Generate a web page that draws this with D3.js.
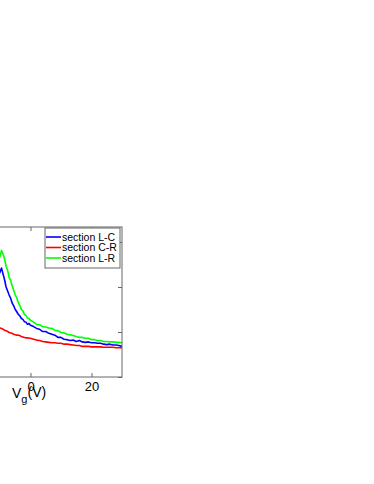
<!DOCTYPE html>
<html lang="en">
<head>
	<meta charset="utf-8">
	<title>D3: sections vs Vg</title>
	<script type="text/javascript" src="https://d3js.org/d3.v7.min.js"></script>
	<style type="text/css">
		body { margin: 0; background: #fff; }
		text { font-family: "Liberation Sans", Arial, sans-serif; }
	</style>
</head>
<body>
	<script type="text/javascript">

        // gate voltage (V)
        var vg = [-13, -12, -11, -10, -9.5, -9, -8.5, -8, -7.5, -7, -6.5, -6, -5.5, -5, -4.5, -4, -3.5, -3, -2.5, -2, -1.5, -1, -0.5,
                  0, 1, 2, 3, 4, 5, 6, 7, 8, 9, 10, 11, 12, 13, 14, 15, 16, 17, 18, 19, 20, 21, 22, 23, 24, 25, 26, 27, 28, 29, 30];

        var sectionLC = [1.96, 2.09, 2.19, 2.33, 2.42, 2.29, 2.16, 2.00, 1.91, 1.82, 1.75, 1.64, 1.58, 1.50, 1.45, 1.39, 1.36, 1.30, 1.28, 1.23, 1.22, 1.17, 1.19,
                         1.15, 1.12, 1.08, 1.06, 1.01, 1.01, 0.97, 0.95, 0.93, 0.88, 0.88, 0.84, 0.83, 0.81, 0.82, 0.79, 0.81, 0.78, 0.77, 0.78, 0.76, 0.76, 0.75, 0.75, 0.73, 0.72, 0.73, 0.71, 0.71, 0.70, 0.68];

        var sectionCR = [1.17, 1.14, 1.11, 1.09, 1.08, 1.06, 1.04, 1.03, 1.01, 0.99, 0.98, 0.97, 0.95, 0.94, 0.93, 0.93, 0.92, 0.90, 0.89, 0.88, 0.87, 0.87, 0.86,
                         0.86, 0.84, 0.82, 0.81, 0.79, 0.78, 0.77, 0.76, 0.76, 0.75, 0.75, 0.73, 0.73, 0.72, 0.71, 0.70, 0.70, 0.68, 0.68, 0.68, 0.67, 0.67, 0.67, 0.67, 0.66, 0.66, 0.66, 0.66, 0.65, 0.65, 0.65];

        var sectionLR = [2.26, 2.40, 2.53, 2.68, 2.81, 2.73, 2.62, 2.46, 2.37, 2.21, 2.15, 2.02, 1.93, 1.82, 1.76, 1.65, 1.59, 1.50, 1.47, 1.39, 1.37, 1.31, 1.30,
                         1.26, 1.22, 1.17, 1.16, 1.12, 1.11, 1.09, 1.08, 1.04, 1.03, 0.99, 0.98, 0.95, 0.94, 0.92, 0.90, 0.88, 0.88, 0.86, 0.86, 0.83, 0.83, 0.81, 0.81, 0.79, 0.79, 0.78, 0.78, 0.77, 0.77, 0.76];

        var seriesNames = ["section L-C", "section C-R", "section L-R"];
        var seriesColors = ["#0000ff", "#ff0000", "#00ff00"];
        var xTicks = [0, 20];
        var yTicks = [0, 1, 2, 3];

        var width = 374, height = 484;
        var plot = { left: -61, right: 122, top: 227, bottom: 377 };

        var svg = d3.select("body")
            .append("svg")
            .attr("width", width)
            .attr("height", height);

        var x = d3.scaleLinear()
            .domain([-30, 30])
            .range([plot.left, plot.right]);

        var y = d3.scaleLinear()
            .domain([0, 3.333])
            .range([plot.bottom, plot.top]);

        svg.append("clipPath")
            .attr("id", "clip")
            .append("rect")
            .attr("x", plot.left)
            .attr("y", plot.top)
            .attr("width", plot.right - plot.left)
            .attr("height", plot.bottom - plot.top);

        var allSeries = [sectionLC, sectionCR, sectionLR];

        var line = d3.line()
            .x(function(d, i) { return x(vg[i]); })
            .y(function(d) { return y(d); });

        svg.append("g")
            .attr("clip-path", "url(#clip)")
            .selectAll("path")
            .data(allSeries)
            .enter()
            .append("path")
            .attr("d", line)
            .attr("fill", "none")
            .attr("stroke", function(d, i) { return seriesColors[i]; })
            .attr("stroke-width", 1.6)
            .attr("stroke-linejoin", "round");

        // axes, matlab style: ticks inward
        var frameColor = "#666";

        svg.append("g")
            .attr("transform", "translate(0," + plot.bottom + ")")
            .call(d3.axisBottom(x).tickValues(xTicks).tickSize(-4).tickPadding(5).tickFormat(d3.format("d")))
            .call(function(g) {
                g.select(".domain").remove();
                g.selectAll(".tick line").attr("stroke", frameColor);
                g.selectAll(".tick text").attr("font-size", 13).attr("fill", "#000")
                    .attr("font-family", "Liberation Sans, Arial, sans-serif");
            });

        svg.append("g")
            .attr("transform", "translate(0," + plot.top + ")")
            .call(d3.axisTop(x).tickValues(xTicks).tickSize(-4).tickFormat(""))
            .call(function(g) {
                g.select(".domain").remove();
                g.selectAll(".tick line").attr("stroke", frameColor);
            });

        svg.append("g")
            .attr("transform", "translate(" + plot.right + ",0)")
            .call(d3.axisRight(y).tickValues(yTicks).tickSize(-4).tickFormat(""))
            .call(function(g) {
                g.select(".domain").remove();
                g.selectAll(".tick line").attr("stroke", frameColor);
            });

        svg.append("rect")
            .attr("x", plot.left)
            .attr("y", plot.top)
            .attr("width", plot.right - plot.left)
            .attr("height", plot.bottom - plot.top)
            .attr("fill", "none")
            .attr("stroke", frameColor)
            .attr("stroke-width", 1);

        // x label V_g(V)
        var xl = svg.append("text")
            .attr("x", 12)
            .attr("y", 398)
            .attr("font-size", 14)
            .attr("fill", "#000");
        xl.append("tspan").text("V");
        xl.append("tspan").attr("dy", 5).attr("font-size", 11).text("g");
        xl.append("tspan").attr("dy", -6).text("(V)");

        // legend
        var legend = svg.append("g")
            .attr("transform", "translate(45,228)");

        legend.append("rect")
            .attr("width", 75)
            .attr("height", 40)
            .attr("fill", "#fff")
            .attr("stroke", frameColor);

        var item = legend.selectAll(".item")
            .data(seriesNames)
            .enter()
            .append("g")
            .attr("class", "item")
            .attr("transform", function(d, i) { return "translate(0," + (9 + i * 10.5) + ")"; });

        item.append("line")
            .attr("x1", 1)
            .attr("x2", 16)
            .attr("stroke", function(d, i) { return seriesColors[i]; })
            .attr("stroke-width", 1.6);

        item.append("text")
            .attr("x", 17)
            .attr("dy", "0.35em")
            .attr("font-size", 10.5)
            .attr("fill", "#000")
            .text(function(d) { return d; });

	</script>
</body>
</html>
